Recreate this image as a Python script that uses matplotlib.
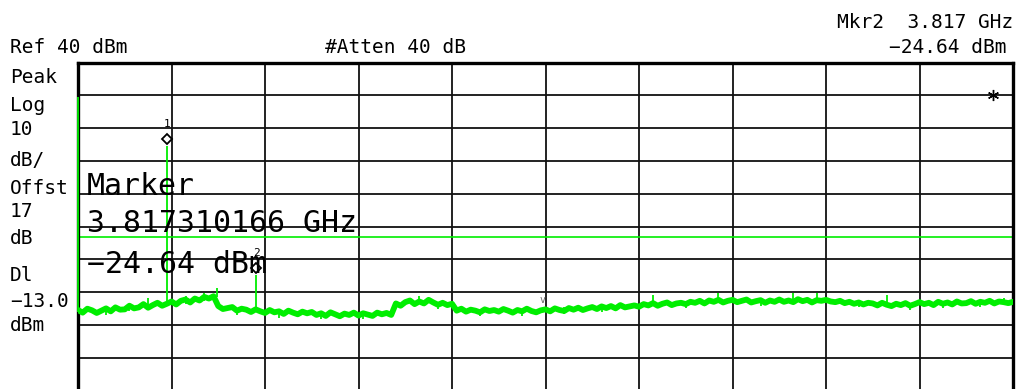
import matplotlib
matplotlib.use('Agg')  # no display
import matplotlib.pyplot as plt
import matplotlib.transforms as mtransforms
import numpy as np

# sweep 0 - 20 GHz, 0.1 GHz per point, trace level in dBm
freqs_ghz = np.arange(0, 201) / 10.0
trace_dbm = [
    -35.4, -36.2, -35.0, -35.5, -36.3, -35.6, -34.9, -35.8, -34.6, -35.3,
    -35.2, -34.1, -34.9, -34.6, -33.6, -34.7, -33.9, -33.2, -34.1, -33.5,
    -32.8, -33.7, -32.6, -32.2, -33.1, -31.9, -32.5, -31.4, -31.9, -31.2,
    -34.2, -35.1, -34.8, -34.5, -35.6, -35.0, -35.3, -36.0, -35.2, -35.8,
    -36.3, -35.4, -36.1, -35.8, -36.6, -35.6, -36.2, -36.7, -35.9, -36.4,
    -36.0, -36.9, -36.4, -37.2, -36.1, -36.7, -37.3, -36.5, -36.9, -36.2,
    -37.1, -36.4, -36.8, -37.2, -36.2, -36.7, -36.3, -36.9, -33.4, -34.1,
    -33.0, -32.5, -33.6, -32.8, -33.4, -32.3, -33.1, -33.8, -33.2, -33.9,
    -33.5, -35.6, -35.0, -35.9, -35.3, -35.6, -36.1, -35.2, -35.7, -35.4,
    -35.9, -35.1, -35.6, -36.2, -35.4, -35.8, -35.0, -35.7, -36.1, -35.5,
    -35.2, -35.8, -34.9, -35.4, -35.7, -34.8, -35.3, -34.7, -35.4, -34.9,
    -34.5, -35.1, -34.3, -34.8, -34.2, -34.9, -33.9, -34.6, -34.3, -34.0,
    -34.4, -33.6, -34.0, -33.3, -34.1, -33.5, -33.1, -33.9, -33.4, -33.2,
    -33.6, -32.9, -33.2, -32.6, -33.4, -32.5, -32.9, -32.3, -33.1, -32.6,
    -32.3, -33.0, -32.6, -32.2, -33.1, -32.7, -32.4, -33.2, -32.5, -32.9,
    -32.2, -32.9, -32.5, -33.0, -32.1, -32.7, -32.3, -33.1, -32.4, -32.6,
    -32.3, -32.8, -33.0, -32.6, -33.3, -32.9, -33.5, -33.1, -33.7, -33.2,
    -33.4, -34.0, -33.2, -33.8, -34.2, -33.5, -33.9, -33.3, -34.1, -33.6,
    -33.0, -33.6, -33.2, -33.9, -32.9, -33.5, -33.1, -33.7, -32.8, -33.4,
    -33.3, -32.7, -33.5, -32.9, -33.2, -32.6, -33.4, -32.8, -33.0, -33.3,
    -32.9,
]

# narrow signals: LO feedthrough, fundamental, spur, 2nd harmonic
spike_ghz = [0.0, 1.9085, 2.97, 3.8173]
spike_top = [29.5, 14.6, -28.7, -24.64]
spike_base = [-35.9, -33.3, -31.3, -35.8]

# short noise spikes poking out of the trace band
spur_ghz = [0.6, 1.1, 1.5, 2.3, 2.7, 3.4, 4.3, 5.2, 6.1, 7.3, 7.7, 8.6, 9.5,
            10.4, 11.2, 12.3, 13.0, 13.7, 14.6, 15.3, 15.8, 16.7, 17.3, 17.8,
            18.5, 19.3, 19.8]
spur_low = [-36.9, -35.6, -34.0, -33.6, -32.6, -37.0, -37.7, -38.1, -38.0,
            -33.5, -35.2, -37.1, -37.2, -36.5, -36.1, -34.0, -34.9, -32.9,
            -34.2, -32.8, -32.6, -34.6, -33.8, -35.4, -34.9, -34.4, -33.4]
spur_high = [-35.0, -33.9, -31.6, -31.0, -30.2, -35.0, -35.9, -36.4, -36.3,
             -31.2, -33.0, -35.4, -35.4, -34.6, -34.3, -30.8, -33.0, -30.3,
             -32.4, -30.2, -30.1, -32.7, -30.9, -33.6, -32.9, -32.5, -31.6]

marker_ghz = [1.9085, 3.8173]
marker_dbm = [14.6, -24.64]
marker_names = ['1', '2']

ref_level = 40
db_per_div = 10
display_line = -13.0

left_labels = ['Peak', 'Log', '10', 'dB/', 'Offst', '17', 'dB', 'Dl', '\u221213.0', 'dBm']
left_baselines = [83, 111, 135, 166, 194, 217, 244, 281, 307, 331]

W, H = 1021, 389
GREEN = '#00ee00'
MONO = 'DejaVu Sans Mono'

fig = plt.figure(figsize=(W / 100, H / 100), dpi=100)
fig.patch.set_facecolor('white')


def px_text(x, y, s, size=14, ha='left'):
    fig.text(x / W, 1 - y / H, s, fontsize=size, family=MONO,
             ha=ha, va='baseline', color='black')


top = 62.7
grid_h = 328.0
ax = fig.add_axes([78 / W, 1 - (top + grid_h) / H, 935 / W, grid_h / H])
ax.set_xlim(0, 20)
ax.set_ylim(ref_level - 10 * db_per_div, ref_level)
ax.set_xticks(np.linspace(0, 20, 11))
ax.set_yticks(np.linspace(ref_level - 10 * db_per_div, ref_level, 11))
ax.tick_params(length=0, labelbottom=False, labelleft=False)
ax.grid(True, color='#111111', linewidth=1.3)
ax.set_axisbelow(True)
for s in ax.spines.values():
    s.set_linewidth(2.4)
    s.set_color('black')

ax.axhline(display_line, color=GREEN, linewidth=1.2, zorder=1.5)

ax.plot(freqs_ghz, trace_dbm, color=GREEN, linewidth=4.2, zorder=3)
ax.vlines(spike_ghz, spike_base, spike_top, color=GREEN, linewidth=1.3,
          zorder=3, clip_on=False)
ax.vlines(spur_ghz, spur_low, spur_high, color=GREEN, linewidth=1.3, zorder=3)

# marker diamonds sit a few pixels above the peak
mk_trans = mtransforms.offset_copy(ax.transData, fig=fig, x=0, y=7, units='dots')
ax.plot(marker_ghz, marker_dbm, linestyle='none', marker='D', markersize=5.5,
        markerfacecolor='white', markeredgecolor='black', markeredgewidth=1.3,
        transform=mk_trans, zorder=4)
lbl_trans = mtransforms.offset_copy(ax.transData, fig=fig, x=0, y=22, units='dots')
for f, v, name in zip(marker_ghz, marker_dbm, marker_names):
    ax.text(f, v, name, transform=lbl_trans, fontsize=8, family=MONO,
            ha='center', va='center', zorder=4)

ax.plot([0.979], [0.9], transform=ax.transAxes, marker=(6, 2, 0),
        markersize=8, color='black', markeredgewidth=1.0, zorder=4)
ax.text(0.497, 0.275, 'v', transform=ax.transAxes, fontsize=7, family=MONO,
        color='#666666', ha='center', va='center')

px_text(10, 53, 'Ref 40 dBm')
px_text(325, 53, '#Atten 40 dB')
px_text(1013, 28, 'Mkr2  3.817 GHz', ha='right')
px_text(1006, 53, '\u221224.64 dBm', ha='right')
for s, y in zip(left_labels, left_baselines):
    px_text(10, y, s)

px_text(87, 195, 'Marker', size=21.5)
px_text(87, 232, '3.817310166 GHz', size=21.5)
px_text(87, 273, '\u221224.64 dBm', size=21.5)

fig.savefig('out.png', dpi=100, facecolor='white')
